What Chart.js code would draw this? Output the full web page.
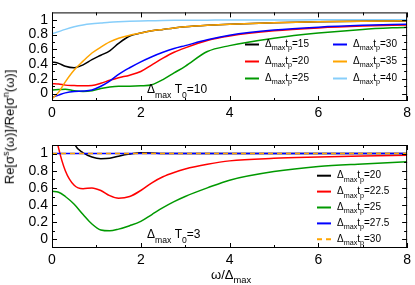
<!DOCTYPE html>
<html>
<head>
<meta charset="utf-8">
<script src="https://cdn.jsdelivr.net/npm/chart.js@4"></script>
<style>
  html, body { margin: 0; padding: 0; background: #fff; }
  #wrap { position: relative; width: 415px; height: 285px; overflow: hidden; }
  canvas { position: absolute; left: 0; }
  #c1 { top: 0; }
  #c2 { top: 125px; }
  #ytitle { position: absolute; left: 9px; top: 127px; transform: translate(-50%, -50%) rotate(-90deg);
    white-space: nowrap; font: 13px 'Liberation Sans', Arial, sans-serif; color: #000; }
  #ytitle sup { font-size: 9px; }
</style>
</head>
<body>
<div id="wrap">
  <canvas id="c1" width="415" height="125"></canvas>
  <canvas id="c2" width="415" height="160"></canvas>
  <div id="ytitle">Re[σ<sup>s</sup>(ω)]/Re[σ<sup>n</sup>(ω)]</div>
</div>
<script>
// frequency grid, omega / Delta_max
const omega = [0, 0.15, 0.3, 0.5, 0.7, 0.9, 1.1, 1.3, 1.5, 1.75, 2, 2.25, 2.5, 2.75, 3, 3.5, 4, 5, 6, 7, 8];

// top panel, Delta_max T0 = 10
const topLabels = ['15', '20', '25', '30', '35', '40'];
const top15 = [0.43, 0.41, 0.37, 0.35, 0.39, 0.46, 0.52, 0.58, 0.68, 0.78, 0.82, 0.85, 0.87, 0.89, 0.905, 0.925, 0.94, 0.96, 0.972, 0.98, 0.985];
const top20 = [0.135, 0.13, 0.115, 0.11, 0.105, 0.11, 0.14, 0.18, 0.215, 0.25, 0.3, 0.39, 0.48, 0.56, 0.62, 0.72, 0.78, 0.85, 0.89, 0.915, 0.93];
const top25 = [0.05, 0.055, 0.06, 0.04, 0.03, 0.04, 0.07, 0.09, 0.1, 0.1, 0.105, 0.12, 0.19, 0.28, 0.37, 0.57, 0.65, 0.75, 0.82, 0.87, 0.9];
const top30 = [-0.05, -0.02, 0.01, 0.03, 0.035, 0.05, 0.1, 0.17, 0.26, 0.35, 0.43, 0.5, 0.56, 0.61, 0.65, 0.73, 0.79, 0.86, 0.9, 0.925, 0.94];
const top35 = [-0.07, 0.02, 0.16, 0.32, 0.44, 0.55, 0.63, 0.7, 0.75, 0.79, 0.82, 0.85, 0.87, 0.89, 0.905, 0.925, 0.94, 0.96, 0.973, 0.981, 0.987];
const top40 = [0.81, 0.84, 0.87, 0.905, 0.93, 0.945, 0.955, 0.965, 0.972, 0.979, 0.984, 0.987, 0.99, 0.992, 0.993, 0.995, 0.997, 0.998, 0.999, 1.0, 1.0];

// bottom panel, Delta_max T0 = 3
const botLabels = ['20', '22.5', '25', '27.5', '30'];
const bot20 = [null, null, 1.5, 1.12, 1.01, 0.96, 0.94, 0.945, 0.97, 0.995, 1.01, 1.008, 1.0, 1.0, 1.0, 1.0, 1.0, 1.0, 1.0, 1.0, 1.0];
const bot225 = [1.45, 1.06, 0.8, 0.63, 0.59, 0.6, 0.57, 0.51, 0.48, 0.5, 0.57, 0.66, 0.73, 0.78, 0.82, 0.875, 0.915, 0.945, 0.96, 0.972, 0.98];
const bot25 = [0.56, 0.55, 0.5, 0.41, 0.29, 0.18, 0.11, 0.1, 0.12, 0.16, 0.21, 0.29, 0.37, 0.44, 0.5, 0.6, 0.69, 0.79, 0.85, 0.88, 0.905];
const bot275 = [1, 1, 1, 1, 1, 1, 1, 1, 1, 1, 1, 1, 1, 1, 1, 1, 1, 1, 1, 1, 1];
const bot30 = [1, 1, 1, 1, 1, 1, 1, 1, 1, 1, 1, 1, 1, 1, 1, 1, 1, 1, 1, 1, 1];

const xTicks = [0, 2, 4, 6, 8];
const xMinor = [1, 3, 5, 7];
const yTicks = [0, 0.2, 0.4, 0.6, 0.8, 1];
const yMinor = [0.1, 0.3, 0.5, 0.7, 0.9];

const FONT = "'Liberation Sans', Arial, sans-serif";
const pts = vals => omega.map((x, i) => ({ x, y: vals[i] }));

function rich(ctx, x, y, parts, size) {
  let cx = x;
  for (const [t, k] of parts) {
    const s = k ? size * 0.72 : size;
    ctx.font = s + 'px ' + FONT;
    const dy = k === 'sub' ? size * 0.4 : 0;
    ctx.fillText(t, cx, y + dy);
    cx += ctx.measureText(t).width;
  }
  return cx;
}

const tpLabel = v => [['Δ', ''], ['max', 'sub'], ['t', ''], ['p', 'sub'], ['=' + v, '']];

// frame with inward ticks, legend and note
function framePlugin(legend, note) {
  return {
    id: 'frame',
    afterDraw(chart) {
      const { ctx, chartArea: a, scales } = chart;
      const xs = scales.x, ys = scales.y;
      ctx.save();
      ctx.strokeStyle = '#000';
      ctx.lineWidth = 1;
      ctx.strokeRect(a.left + 0.5, a.top + 0.5, a.right - a.left - 1, a.bottom - a.top - 1);
      ctx.beginPath();
      const tick = (vals, len) => {
        vals.forEach(v => {
          const px = Math.round(xs.getPixelForValue(v)) + 0.5;
          ctx.moveTo(px, a.bottom); ctx.lineTo(px, a.bottom - len);
          ctx.moveTo(px, a.top); ctx.lineTo(px, a.top + len);
        });
      };
      const ytick = (vals, len) => {
        vals.forEach(v => {
          const py = Math.round(ys.getPixelForValue(v)) + 0.5;
          ctx.moveTo(a.left, py); ctx.lineTo(a.left + len, py);
          ctx.moveTo(a.right, py); ctx.lineTo(a.right - len, py);
        });
      };
      tick(xTicks, 5); tick(xMinor, 3);
      ytick(yTicks, 5); ytick(yMinor, 3);
      ctx.stroke();

      ctx.fillStyle = '#000';
      ctx.textBaseline = 'middle';
      ctx.textAlign = 'left';
      legend.forEach(e => {
        const ds = chart.data.datasets[e.i];
        ctx.strokeStyle = ds.borderColor;
        ctx.lineWidth = 2;
        ctx.setLineDash(ds.borderDash || []);
        ctx.beginPath();
        ctx.moveTo(e.x, e.y); ctx.lineTo(e.x + 14, e.y);
        ctx.stroke();
        ctx.setLineDash([]);
        ctx.fillStyle = '#000';
        rich(ctx, e.x + 20, e.y, tpLabel(ds.label), 10);
      });

      ctx.textBaseline = 'alphabetic';
      rich(ctx, note.x, note.y, [['Δ', ''], ['max', 'sub'], [' T', ''], ['0', 'sub'], ['=' + note.v, '']], 12);
      if (note.xtitle) {
        ctx.textBaseline = 'middle';
        rich(ctx, 211, 150, [['ω/Δ', ''], ['max', 'sub']], 13);
      }
      ctx.restore();
    }
  };
}

function makeOptions(padTop, xHeight) {
  return {
    responsive: false,
    animation: false,
    layout: { padding: { top: padTop, right: 5, left: 0, bottom: 0 } },
    plugins: { legend: { display: false }, tooltip: { enabled: false } },
    elements: { point: { radius: 0 }, line: { borderWidth: 1.5, cubicInterpolationMode: 'monotone' } },
    scales: {
      x: {
        type: 'linear', min: 0, max: 8,
        grid: { display: false, drawTicks: false }, border: { display: false },
        afterBuildTicks: s => { s.ticks = xTicks.map(v => ({ value: v })); },
        afterFit: s => { s.height = xHeight; },
        ticks: { color: '#000', padding: 4, autoSkip: false, font: { size: 14, family: FONT }, maxRotation: 0 }
      },
      y: {
        min: -0.1, max: 1.1,
        grid: { display: false, drawTicks: false }, border: { display: false },
        afterBuildTicks: s => { s.ticks = yTicks.map(v => ({ value: v })); },
        afterFit: s => { s.width = 52; },
        ticks: { color: '#000', padding: 4, autoSkip: false, font: { size: 14, family: FONT },
          callback: v => String(Math.round(v * 10) / 10) }
      }
    }
  };
}

const line = (label, vals, color, extra) => Object.assign({
  label, data: pts(vals), borderColor: color, backgroundColor: color, fill: false
}, extra || {});

new Chart(document.getElementById('c1'), {
  type: 'line',
  data: {
    datasets: [
      line(topLabels[0], top15, '#000000', { order: 2 }),
      line(topLabels[1], top20, '#ff0000', { order: 4 }),
      line(topLabels[2], top25, '#009900', { order: 5 }),
      line(topLabels[3], top30, '#0000ff', { order: 3 }),
      line(topLabels[4], top35, '#ffa500', { order: 1 }),
      line(topLabels[5], top40, '#87cefa', { order: 6 })
    ]
  },
  options: makeOptions(2, 24),
  plugins: [framePlugin([
    { i: 0, x: 245, y: 44.5 }, { i: 1, x: 245, y: 61.5 }, { i: 2, x: 245, y: 78.5 },
    { i: 3, x: 333, y: 44.5 }, { i: 4, x: 333, y: 61.5 }, { i: 5, x: 333, y: 78.5 }
  ], { x: 147, y: 93, v: '10' })]
});

new Chart(document.getElementById('c2'), {
  type: 'line',
  data: {
    datasets: [
      line(botLabels[0], bot20, '#000000', { order: 3 }),
      line(botLabels[1], bot225, '#ff0000', { order: 4 }),
      line(botLabels[2], bot25, '#009900', { order: 5 }),
      line(botLabels[3], bot275, '#0000ff', { order: 2 }),
      line(botLabels[4], bot30, '#ffa500', { order: 1, borderDash: [5, 4] })
    ]
  },
  options: makeOptions(20, 37),
  plugins: [framePlugin([
    { i: 0, x: 317, y: 50.7 }, { i: 1, x: 317, y: 66.6 }, { i: 2, x: 317, y: 82.5 },
    { i: 3, x: 317, y: 98.4 }, { i: 4, x: 317, y: 114.3 }
  ], { x: 147, y: 113, v: '3', xtitle: true })]
});
</script>
</body>
</html>
